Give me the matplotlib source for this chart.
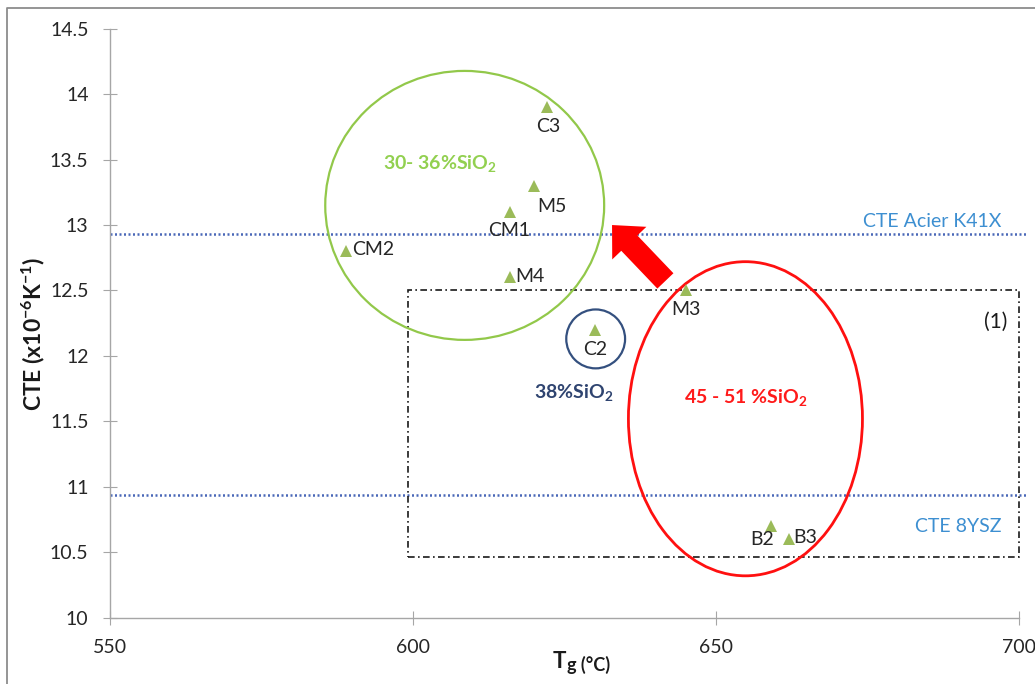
import matplotlib
matplotlib.use("Agg")
import matplotlib.pyplot as plt
from matplotlib.patches import Ellipse, Rectangle, FancyArrowPatch
from matplotlib.lines import Line2D

plt.rcParams['font.family'] = ['Lato', 'DejaVu Sans']
plt.rcParams['mathtext.fontset'] = 'custom'
plt.rcParams['mathtext.rm'] = 'Lato'
plt.rcParams['mathtext.bf'] = 'Lato:bold'
plt.rcParams['mathtext.it'] = 'Lato:italic'

# Glass samples: transition temperature (°C) and thermal expansion (1e-6 /K)
samples = ['C3', 'M5', 'CM1', 'CM2', 'M4', 'M3', 'C2', 'B2', 'B3']
tg = [622, 620, 616, 589, 616, 645, 630, 659, 662]
cte = [13.9, 13.3, 13.1, 12.8, 12.6, 12.5, 12.2, 10.7, 10.6]

# Reference expansion coefficients
cte_k41x = 12.93
cte_8ysz = 10.94

xticks = [550, 600, 650, 700]
yticks = [10, 10.5, 11, 11.5, 12, 12.5, 13, 13.5, 14, 14.5]
ytick_labels = ['10', '10.5', '11', '11.5', '12', '12.5', '13', '13.5', '14', '14.5']

# label placement (offset in points, horizontal alignment)
label_style = {
    'C3': ((1, -14), 'center'),
    'M5': ((2, -15), 'left'),
    'CM1': ((-1, -13), 'center'),
    'CM2': ((4, 1), 'left'),
    'M4': ((4, 1), 'left'),
    'M3': ((0, -14), 'center'),
    'C2': ((0, -14), 'center'),
    'B2': ((-6, -10), 'center'),
    'B3': ((3, 1), 'left'),
}

W, H = 1035, 684
fig = plt.figure(figsize=(W / 100, H / 100), dpi=100)
ax = fig.add_axes([110 / W, 1 - 617.7 / H, 909.5 / W, 589 / H])

ax.set_xlim(550, 700)
ax.set_ylim(10, 14.5)
ax.set_xticks(xticks)
ax.set_yticks(yticks)
ax.set_yticklabels(ytick_labels)

for s in ('top', 'right'):
    ax.spines[s].set_visible(False)
for s in ('left', 'bottom'):
    ax.spines[s].set_color('#a6a6a6')
    ax.spines[s].set_linewidth(1.0)
ax.tick_params(axis='y', direction='inout', length=10, width=0.8, color='#a6a6a6',
               pad=10.5, labelsize=14, labelcolor='#262626')
ax.tick_params(axis='x', direction='inout', length=9.5, width=0.8, color='#a6a6a6',
               pad=10.5, labelsize=14, labelcolor='#262626')

# reference lines
dot_color = '#4a68b8'
ax.plot([550, 701], [cte_k41x, cte_k41x], color=dot_color, lw=1.8,
        linestyle=(0, (0.8, 1.0)), clip_on=False, zorder=2)
ax.plot([550, 701], [cte_8ysz, cte_8ysz], color=dot_color, lw=1.8,
        linestyle=(0, (0.8, 1.0)), clip_on=False, zorder=2)
ax.text(697, cte_k41x + 0.1, 'CTE Acier K41X', color='#3d8fd1', fontsize=14,
        ha='right', va='center')
ax.text(697, cte_8ysz - 0.24, 'CTE 8YSZ', color='#3d8fd1', fontsize=14,
        ha='right', va='center')

# dash-dot frame (1)
ax.add_patch(Rectangle((599.1, 10.46), 700 - 599.1, 12.5 - 10.46, fill=False,
                       edgecolor='#1a1a1a', lw=1.2, linestyle=(0, (4, 2, 1, 2)),
                       clip_on=False, zorder=2))
ax.text(698, 12.26, '(1)', fontsize=15, color='#1a1a1a', ha='right', va='center')

# composition groups
ax.add_patch(Ellipse((608.5, 13.15), 46.0, 2.055, fill=False, edgecolor='#92c84a',
                     lw=1.6, zorder=3))
ax.add_patch(Ellipse((654.8, 11.52), 38.6, 2.40, fill=False, edgecolor='#ff1010',
                     lw=2.0, zorder=3))
ax.add_patch(Ellipse((630.1, 12.13), 9.7, 0.45, fill=False, edgecolor='#34507f',
                     lw=1.6, zorder=3))

ax.text(604.5, 13.47, r'30- 36%SiO$_\mathbf{2}$', color='#92d050', fontsize=14,
        fontweight='bold', ha='center', va='center')
ax.text(626.5, 11.72, r'38%SiO$_\mathbf{2}$', color='#2f4470', fontsize=14,
        fontweight='bold', ha='center', va='center')
ax.text(654.8, 11.68, r'45 - 51 %SiO$_\mathbf{2}$', color='#ff1a1a', fontsize=14,
        fontweight='bold', ha='center', va='center')

# shift arrow
ax.add_patch(FancyArrowPatch((641.6, 12.573), (632.8, 13.0),
                             arrowstyle='simple,head_width=34,head_length=18,tail_width=16',
                             mutation_scale=1, color='#ff0000', lw=0,
                             shrinkA=0, shrinkB=0, zorder=4))

# samples
ax.plot(tg, cte, linestyle='none', marker='^', markersize=8.5,
        color='#9bbb59', markeredgewidth=0, zorder=5)
for name, x, y in zip(samples, tg, cte):
    (dx, dy), ha = label_style[name]
    ax.annotate(name, (x, y), xytext=(dx, dy), textcoords='offset points',
                ha=ha, va='center', fontsize=14, color='#262626', zorder=6)

# axis titles
fig.text(33 / W, 1 - 334 / H, r'CTE (x10$\mathbf{^{-6}}$K$\mathbf{^{-1}}$)',
         rotation=90, ha='center', va='center', fontsize=16.5, fontweight='bold',
         color='#1a1a1a')
fig.text(566 / W, 1 - 668 / H, 'T', ha='right', va='baseline', fontsize=16,
         fontweight='bold', color='#1a1a1a')
fig.text(567 / W, 1 - 671 / H, 'g (°C)', ha='left', va='baseline', fontsize=13,
         fontweight='bold', color='#1a1a1a')

# outer frame
fig.add_artist(Line2D([7 / W, 7 / W, 1.0], [0, 1 - 8 / H, 1 - 8 / H],
                      transform=fig.transFigure, color='#8c8c8c', lw=1.3))

fig.savefig('out.png', dpi=100)
